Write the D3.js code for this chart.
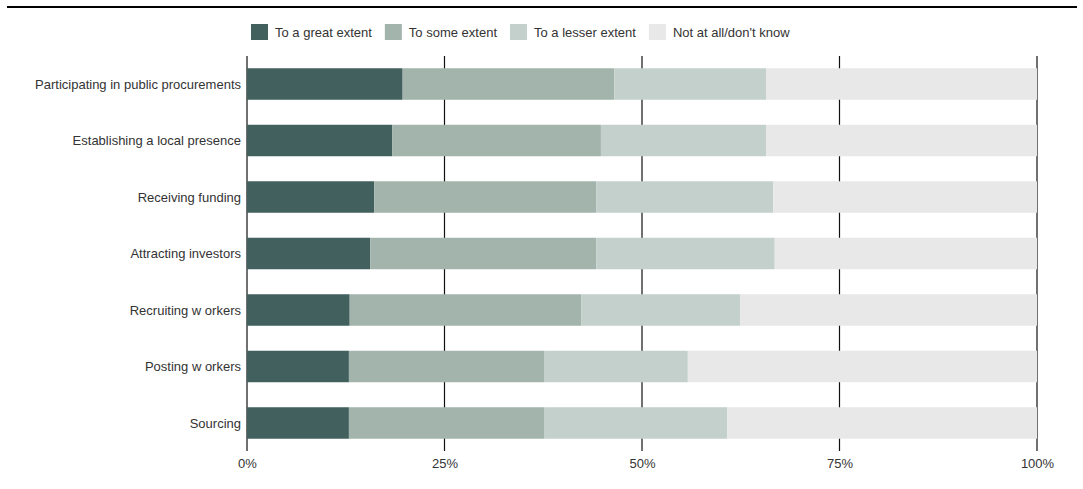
<!DOCTYPE html>
<html>
<head>
<meta charset="utf-8">
<script src="https://cdn.jsdelivr.net/npm/d3@7"></script>
<style>
  html, body { margin: 0; padding: 0; background: #fff; }
  svg { display: block; font-family: "Liberation Sans", Arial, sans-serif; }
</style>
</head>
<body>
<svg id="chart" width="1083" height="489"></svg>
<script>
// Survey items, top to bottom
const categories = [
  "Participating in public procurements",
  "Establishing a local presence",
  "Receiving funding",
  "Attracting investors",
  "Recruiting w orkers",
  "Posting w orkers",
  "Sourcing"
];

// Response groups (stack order, left to right)
const seriesNames = ["To a great extent", "To some extent", "To a lesser extent", "Not at all/don't know"];
const seriesColors = ["#41605e", "#a2b4ac", "#c4d0cb", "#e8e8e8"];

// Shares in percent, one array per response group
const greatExtent  = [19.7, 18.4, 16.1, 15.6, 13.0, 12.9, 12.9];
const someExtent   = [26.8, 26.4, 28.1, 28.6, 29.3, 24.7, 24.7];
const lesserExtent = [19.2, 20.9, 22.4, 22.6, 20.1, 18.2, 23.2];
const notAtAll     = [34.3, 34.3, 33.4, 33.2, 37.6, 44.2, 39.2];

const tickValues = [0, 25, 50, 75, 100];

const seriesValues = [greatExtent, someExtent, lesserExtent, notAtAll];
const rows = categories.map((c, i) => {
  const r = { category: c };
  seriesNames.forEach((s, k) => { r[s] = seriesValues[k][i]; });
  return r;
});

const svg = d3.select("#chart");
const margin = { left: 247, right: 46, top: 56, bottom: 38 };
const W = 1083, H = 489;
const FS = 13;

const x = d3.scaleLinear().domain([0, 100]).range([margin.left, W - margin.right]);
const y = d3.scaleBand().domain(categories)
  .range([margin.top, H - margin.bottom])
  .paddingInner(0.4425).paddingOuter(0.217);

// Top rule
svg.append("line")
  .attr("x1", 7).attr("x2", 1077).attr("y1", 7).attr("y2", 7)
  .attr("stroke", "#000").attr("stroke-width", 2);

// Vertical grid lines at each tick
svg.append("g").selectAll("line").data(tickValues).join("line")
  .attr("x1", d => x(d)).attr("x2", d => x(d))
  .attr("y1", margin.top).attr("y2", H - margin.bottom)
  .attr("stroke", "#111").attr("stroke-width", 1.2);

// Stacked bars
const stack = d3.stack().keys(seriesNames)(rows);
svg.append("g").selectAll("g").data(stack).join("g")
  .attr("fill", (d, i) => seriesColors[i])
  .selectAll("rect").data(d => d).join("rect")
  .attr("x", d => x(d[0]))
  .attr("width", d => x(d[1]) - x(d[0]))
  .attr("y", d => y(d.data.category))
  .attr("height", y.bandwidth());

// Category labels
svg.append("g").selectAll("text").data(categories).join("text")
  .attr("x", margin.left - 6)
  .attr("y", d => y(d) + y.bandwidth() / 2)
  .attr("dy", "0.35em")
  .attr("text-anchor", "end")
  .attr("font-size", FS)
  .attr("fill", "#333")
  .text(d => d);

// Percentage axis labels
const xAxis = d3.axisBottom(x).tickValues(tickValues).tickSize(0).tickPadding(8)
  .tickFormat(d => d + "%");
const gx = svg.append("g").attr("transform", `translate(0,${H - margin.bottom})`).call(xAxis);
gx.select(".domain").remove();
gx.selectAll("text").attr("font-size", FS).attr("fill", "#333")
  .attr("font-family", "Liberation Sans, Arial, sans-serif");

// Legend
const legend = svg.append("g").attr("transform", "translate(251,24)");
let lx = 0;
seriesNames.forEach((name, i) => {
  const g = legend.append("g").attr("transform", `translate(${lx},0)`);
  g.append("rect").attr("width", 17).attr("height", 16).attr("fill", seriesColors[i]);
  const t = g.append("text").attr("x", 24).attr("y", 8).attr("dy", "0.35em")
    .attr("font-size", FS).attr("fill", "#333").text(name);
  lx += 24 + t.node().getComputedTextLength() + 13;
});
</script>
</body>
</html>
